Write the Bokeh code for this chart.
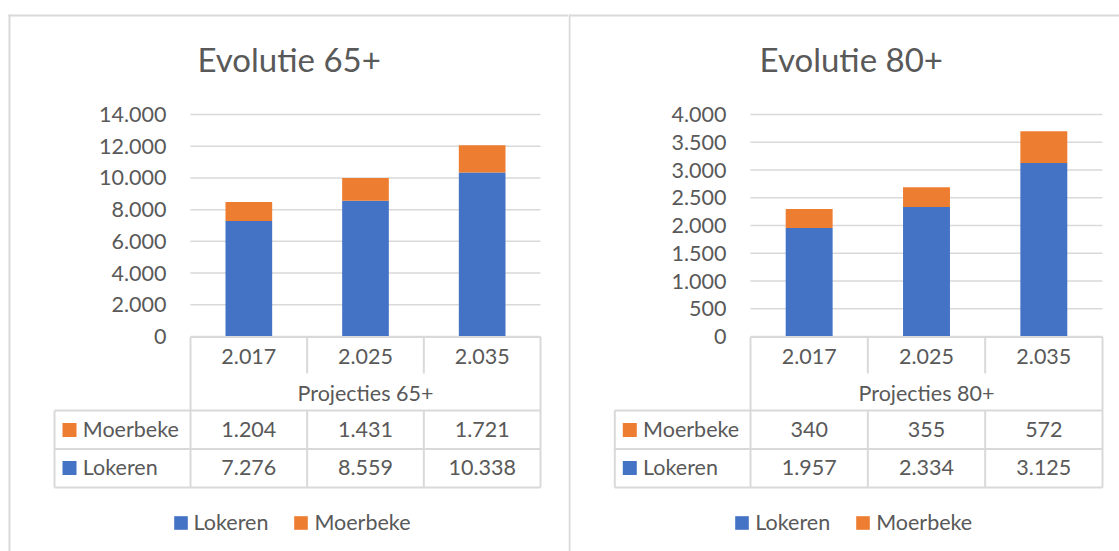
from bokeh.plotting import figure
from bokeh.models import (Range1d, FixedTicker, Label, BoxAnnotation, LinearAxis,
                          Legend, LegendItem, ColumnDataSource)
from bokeh.core.properties import value
from bokeh.layouts import row
from bokeh.embed import file_html
from bokeh.resources import INLINE

# ---------------- data ----------------
years = ["2.017", "2.025", "2.035"]
series = ["Lokeren", "Moerbeke"]
lokeren_65 = [7276, 8559, 10338]
moerbeke_65 = [1204, 1431, 1721]
lokeren_80 = [1957, 2334, 3125]
moerbeke_80 = [340, 355, 572]
ticks_65 = [0, 2000, 4000, 6000, 8000, 10000, 12000, 14000]
tick_labels_65 = ["0", "2.000", "4.000", "6.000", "8.000", "10.000", "12.000", "14.000"]
ticks_80 = [0, 500, 1000, 1500, 2000, 2500, 3000, 3500, 4000]
tick_labels_80 = ["0", "500", "1.000", "1.500", "2.000", "2.500", "3.000", "3.500", "4.000"]
titles = ["Evolutie 65+", "Evolutie 80+"]
axis_titles = ["Projecties 65+", "Projecties 80+"]
colors = ["#4472C4", "#ED7D31"]

FONT = "Lato"
GREY = "#595959"
LINE = "#d9d9d9"
LABEL_SIZE = "21.5px"
H = 551
Y_TOP_TICK, Y_ZERO = 114, 336          # page rows of the top tick and of zero


def fmt(v):
    return f"{v:,}".replace(",", ".")


def build(title, axis_title, lok, moe, ticks, tick_labels,
          ox, W, fx0, fx1, title_cx, table_x0, legend_x, legend_y):
    n = len(years)
    cw = (fx1 - fx0) / n                       # pixels per category
    y_max = ticks[-1]
    upp = y_max / (Y_ZERO - Y_TOP_TICK)        # data units per pixel
    p = figure(width=W, height=H,
               x_range=Range1d((ox - fx0) / cw, (ox + W - fx0) / cw),
               y_range=Range1d(-(H - Y_ZERO) * upp, y_max + Y_TOP_TICK * upp),
               min_border=0, title=None, toolbar_location=None,
               output_backend="svg", x_axis_location=None, y_axis_location=None)
    p.extra_x_ranges = {"px": Range1d(ox, ox + W)}
    p.extra_y_ranges = {"px": Range1d(H, 0)}
    p.outline_line_color = None
    p.background_fill_color = "white"
    p.border_fill_color = "white"
    for g in p.grid:
        g.visible = False

    xs = [i + 0.5 for i in range(n)]          # category centres
    # horizontal gridlines at the ticks across the plot area
    p.segment(x0=[0] * len(ticks), x1=[n] * len(ticks), y0=ticks, y1=ticks,
              line_color=LINE, line_width=1.5)

    src = ColumnDataSource(dict(x=xs, Lokeren=lok, Moerbeke=moe))
    rs = p.vbar_stack(series, x="x", width=0.4, color=colors, source=src,
                      line_color=None)

    common = dict(axis_line_color=None, major_tick_line_color=None,
                  minor_tick_line_color=None, major_tick_out=0, major_tick_in=0,
                  minor_tick_out=0, minor_tick_in=0,
                  major_label_text_font=FONT, major_label_text_font_size=LABEL_SIZE,
                  major_label_text_color=GREY)
    yax = LinearAxis(fixed_location=0, ticker=FixedTicker(ticks=ticks),
                     bounds=(0, y_max),
                     major_label_overrides={t: l for t, l in zip(ticks, tick_labels)},
                     major_label_standoff=24, **common)
    p.add_layout(yax, "left")
    xax = LinearAxis(fixed_location=0, ticker=FixedTicker(ticks=xs),
                     bounds=(0, n),
                     major_label_overrides={x: y for x, y in zip(xs, years)},
                     major_label_standoff=12,
                     axis_label=axis_title, axis_label_standoff=13,
                     axis_label_text_font=FONT, axis_label_text_font_size=LABEL_SIZE,
                     axis_label_text_font_style="normal", axis_label_text_color=GREY,
                     **common)
    p.add_layout(xax, "below")

    def box(l, r, t, b, color=LINE):
        p.add_layout(BoxAnnotation(left=l, right=r, top=t, bottom=b,
                                   x_range_name="px", y_range_name="px",
                                   fill_color=color, fill_alpha=1.0,
                                   line_color=None))

    def hline(x0, x1, y):
        box(x0, x1, y - 1, y + 1)

    def vline(x, y0, y1):
        box(x - 1, x + 1, y0, y1)

    # chart borders
    if ox == 0:
        box(8, 10, 14, H)
        box(8, ox + W, 14, 16)
    else:
        box(ox, ox + 2, 14, H)
        box(ox, ox + W, 14, 16)

    # data table grid
    r_top, r_mid, r1, r2, r3 = 336.5, 373, 410, 448.5, 487
    hline(fx0, fx1, r_top)
    vline(fx0, r_top, r3)
    vline(fx1, r_top, r3)
    for i in range(1, n):
        x = fx0 + i * cw
        vline(x, r_top, r_mid)
        vline(x, r1, r3)
    for y in (r1, r2, r3):
        hline(table_x0, fx1, y)
    vline(table_x0, r1, r3)

    # data table rows: Moerbeke first, then Lokeren
    rows = [("Moerbeke", moe, colors[1], 429.5), ("Lokeren", lok, colors[0], 467.5)]
    tx, ty, tt = [], [], []
    for name, vals, col, yc in rows:
        box(table_x0 + 8, table_x0 + 22, yc - 7, yc + 7, color=col)
        p.add_layout(Label(x=table_x0 + 28.3, y=yc - 1.5, x_range_name="px",
                           y_range_name="px",
                           text=name, text_align="left", text_baseline="middle",
                           text_font=FONT, text_font_size=LABEL_SIZE, text_color=GREY))
        tx += xs
        ty += [yc - 1] * n
        tt += [fmt(v) for v in vals]
    p.text(x=tx, y=ty, text=tt, y_range_name="px", text_align="center",
           text_baseline="middle", text_font=value(FONT), text_font_size=LABEL_SIZE,
           text_color=GREY)

    # chart title
    p.add_layout(Label(x=title_cx, y=58, x_range_name="px", y_range_name="px",
                       text=title, text_align="center", text_baseline="middle",
                       text_font=FONT, text_font_size="33px", text_color=GREY))

    # legend below the table
    legend = Legend(items=[LegendItem(label=s, renderers=[r]) for s, r in zip(series, rs)],
                    orientation="horizontal", location=(legend_x - ox, legend_y),
                    glyph_width=17, glyph_height=17, label_standoff=5, spacing=24,
                    padding=0, margin=0, border_line_color=None,
                    background_fill_alpha=0,
                    label_text_font=FONT, label_text_font_size=LABEL_SIZE,
                    label_text_color=GREY)
    p.add_layout(legend)
    return p


p1 = build(titles[0], axis_titles[0], lokeren_65, moerbeke_65, ticks_65, tick_labels_65,
           ox=0, W=568, fx0=190, fx1=540, title_cx=288.7, table_x0=54,
           legend_x=171.6, legend_y=16)
p2 = build(titles[1], axis_titles[1], lokeren_80, moerbeke_80, ticks_80, tick_labels_80,
           ox=568, W=551, fx0=750, fx1=1102, title_cx=850.8, table_x0=614.3,
           legend_x=733.3, legend_y=16)

layout = row(p1, p2)
open("out.html", "w").write(file_html(layout, INLINE))
